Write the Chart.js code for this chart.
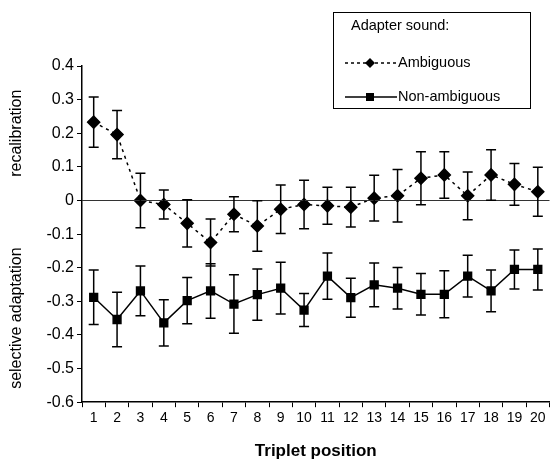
<!DOCTYPE html>
<html>
<head>
    <title>Triplet position</title>
    <script src="https://cdn.jsdelivr.net/npm/chart.js"></script>
    <style>
        body { margin: 0; background: #fff; }
        #wrap { width: 557px; height: 460px; }
    </style>
</head>
<body>
    <div id="wrap"><canvas id="chart"></canvas></div>

    <script>
        // Values
        const positions = ['1','2','3','4','5','6','7','8','9','10','11','12','13','14','15','16','17','18','19','20'];
        const ambiguous = [0.233, 0.196, 0.0, -0.012, -0.068, -0.125, -0.041, -0.076, -0.026, -0.012,
                           -0.016, -0.02, 0.007, 0.014, 0.066, 0.076, 0.014, 0.076, 0.048, 0.026];
        const ambiguousErr = [0.075, 0.072, 0.081, 0.043, 0.07, 0.07, 0.052, 0.075, 0.072, 0.072,
                              0.055, 0.059, 0.068, 0.078, 0.079, 0.069, 0.071, 0.075, 0.062, 0.073];
        const nonAmbiguous = [-0.288, -0.354, -0.269, -0.364, -0.298, -0.269, -0.308, -0.28, -0.261, -0.326,
                              -0.225, -0.289, -0.251, -0.261, -0.279, -0.279, -0.225, -0.269, -0.205, -0.205];
        const nonAmbiguousErr = [0.081, 0.081, 0.074, 0.069, 0.069, 0.081, 0.087, 0.076, 0.077, 0.049,
                                 0.069, 0.058, 0.065, 0.062, 0.062, 0.07, 0.062, 0.062, 0.058, 0.061];
        const yTicks = [0.4, 0.3, 0.2, 0.1, 0, -0.1, -0.2, -0.3, -0.4, -0.5, -0.6];

        const FONT = '"Liberation Sans", Arial, sans-serif';

        // error bars + zero line
        const errorBars = {
            id: 'errorBars',
            afterDatasetsDraw(chart) {
                const ctx = chart.ctx;
                const x = chart.scales.x, y = chart.scales.y;
                const area = chart.chartArea;
                ctx.save();
                ctx.strokeStyle = '#333';
                ctx.lineWidth = 1.2;
                ctx.beginPath();
                ctx.moveTo(area.left, y.getPixelForValue(0));
                ctx.lineTo(area.right, y.getPixelForValue(0));
                ctx.stroke();

                const sets = [[ambiguous, ambiguousErr], [nonAmbiguous, nonAmbiguousErr]];
                ctx.strokeStyle = '#000';
                ctx.lineWidth = 1.5;
                sets.forEach(([vals, errs]) => {
                    vals.forEach((v, i) => {
                        const px = x.getPixelForValue(i);
                        const top = y.getPixelForValue(v + errs[i]);
                        const bot = y.getPixelForValue(v - errs[i]);
                        ctx.beginPath();
                        ctx.moveTo(px, top); ctx.lineTo(px, bot);
                        ctx.moveTo(px - 5, top); ctx.lineTo(px + 5, top);
                        ctx.moveTo(px - 5, bot); ctx.lineTo(px + 5, bot);
                        ctx.stroke();
                    });
                });
                ctx.restore();
            }
        };

        // the two y labels and the boxed legend
        const labels = {
            id: 'labels',
            afterDraw(chart) {
                const ctx = chart.ctx;
                const y = chart.scales.y;
                ctx.save();
                ctx.fillStyle = '#000';
                ctx.font = '16px ' + FONT;
                ctx.textAlign = 'center';
                ctx.textBaseline = 'middle';
                ctx.save();
                ctx.translate(17, y.getPixelForValue(0.2));
                ctx.rotate(-Math.PI / 2);
                ctx.fillText('recalibration', 0, 0);
                ctx.restore();
                ctx.save();
                ctx.translate(17, y.getPixelForValue(-0.35));
                ctx.rotate(-Math.PI / 2);
                ctx.fillText('selective adaptation', 0, 0);
                ctx.restore();

                // legend
                ctx.strokeStyle = '#000';
                ctx.lineWidth = 1;
                ctx.strokeRect(333.5, 12.5, 197, 96);
                ctx.font = '14.5px ' + FONT;
                ctx.textAlign = 'left';
                ctx.fillText('Adapter sound:', 351, 26);
                ctx.fillText('Ambiguous', 398, 63);
                ctx.fillText('Non-ambiguous', 398, 97);

                ctx.lineWidth = 1.5;
                ctx.setLineDash([3, 3]);
                ctx.beginPath(); ctx.moveTo(345, 63); ctx.lineTo(397, 63); ctx.stroke();
                ctx.setLineDash([]);
                ctx.beginPath(); ctx.moveTo(345, 97); ctx.lineTo(397, 97); ctx.stroke();
                ctx.beginPath();
                ctx.moveTo(370, 58); ctx.lineTo(375, 63); ctx.lineTo(370, 68); ctx.lineTo(365, 63);
                ctx.closePath(); ctx.fill();
                ctx.fillRect(366, 93, 8, 8);
                ctx.restore();
            }
        };

        const ctx = document.getElementById('chart').getContext('2d');
        new Chart(ctx, {
            type: 'line',
            data: {
                labels: positions,
                datasets: [{
                    label: 'Ambiguous',
                    data: ambiguous,
                    borderColor: '#000',
                    backgroundColor: '#000',
                    borderWidth: 1.5,
                    borderDash: [3, 4],
                    pointStyle: 'rectRot',
                    pointRadius: 6,
                    fill: false
                }, {
                    label: 'Non-ambiguous',
                    data: nonAmbiguous,
                    borderColor: '#000',
                    backgroundColor: '#000',
                    borderWidth: 1.5,
                    pointStyle: 'rect',
                    pointRadius: 5.5,
                    fill: false
                }]
            },
            options: {
                responsive: true,
                maintainAspectRatio: false,
                animation: false,
                layout: { padding: { top: 66, right: 2, left: 0, bottom: 0 } },
                plugins: { legend: { display: false }, tooltip: { enabled: false } },
                scales: {
                    x: {
                        offset: true,
                        grid: { offset: true, drawOnChartArea: false, drawTicks: true, tickLength: 5, color: '#000' },
                        border: { color: '#000', width: 1.5 },
                        ticks: { color: '#000', font: { size: 14, family: FONT }, maxRotation: 0, autoSkip: false, padding: 3 },
                        title: { display: true, text: 'Triplet position', color: '#000',
                                 font: { size: 17, weight: 'bold', family: FONT, lineHeight: 1 }, padding: { top: 13, bottom: 0 } }
                    },
                    y: {
                        min: -0.6,
                        max: 0.4,
                        afterBuildTicks: s => { s.ticks = yTicks.map(v => ({ value: v })); },
                        afterFit: s => { s.width = 82; },
                        grid: { drawOnChartArea: false, drawTicks: true, tickLength: 5, color: '#000' },
                        border: { color: '#000', width: 1.5 },
                        ticks: {
                            color: '#000',
                            font: { size: 16, family: FONT },
                            padding: 3,
                            callback: v => Math.abs(v) < 1e-9 ? '0' : v.toFixed(1)
                        }
                    }
                }
            },
            plugins: [errorBars, labels]
        });
    </script>
</body>
</html>
